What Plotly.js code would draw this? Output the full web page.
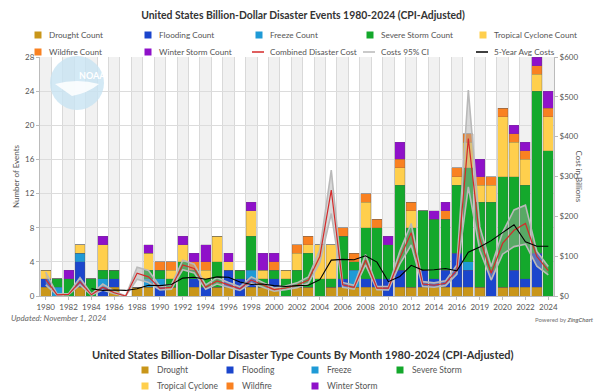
<!DOCTYPE html>
<html>
<head>
<meta charset="utf-8">
<script src="https://cdn.plot.ly/plotly-3.0.1.min.js"></script>
<style>
html,body{margin:0;padding:0;background:#fff;}
#chart{width:600px;height:392px;}
</style>
</head>
<body>
<div id="chart"></div>
<script>
var years = [1980,1981,1982,1983,1984,1985,1986,1987,1988,1989,1990,1991,1992,1993,1994,1995,1996,1997,1998,1999,2000,2001,2002,2003,2004,2005,2006,2007,2008,2009,2010,2011,2012,2013,2014,2015,2016,2017,2018,2019,2020,2021,2022,2023,2024];

var droughtCount  = [1,0,0,1,0,0,1,0,1,1,0,1,0,1,0,1,1,0,1,1,1,0,1,1,0,1,1,1,1,1,0,1,1,1,1,1,1,1,1,0,1,1,1,1,0];
var floodingCount = [1,0,0,3,0,1,1,0,0,0,1,0,0,1,1,0,2,2,1,0,1,0,0,0,0,0,1,0,1,1,2,2,0,2,1,2,4,2,0,3,0,2,1,4,0];
var freezeCount   = [0,1,0,1,0,1,0,0,0,1,1,0,0,0,0,0,0,0,1,0,0,0,0,0,0,0,0,2,0,0,0,0,0,0,0,0,0,1,0,0,0,0,0,0,0];
var severeCount   = [0,1,2,0,2,1,1,0,0,1,1,1,4,1,1,3,0,1,4,1,1,2,2,4,2,1,5,1,6,6,4,10,7,7,7,6,8,11,10,8,13,11,11,19,17];
var tropicalCount = [1,0,0,1,0,3,0,0,0,2,0,1,2,0,1,3,1,0,3,1,0,1,2,1,4,4,0,0,3,0,0,2,2,0,0,0,1,3,2,2,7,4,3,2,4];
var wildfireCount = [0,0,0,0,0,0,0,0,0,0,1,1,0,1,1,0,0,0,0,0,1,0,1,1,0,0,1,1,1,1,0,1,1,0,0,1,1,1,1,1,1,1,1,1,1];
var winterCount   = [0,0,1,0,0,1,0,0,0,1,0,0,1,1,2,0,1,0,1,2,1,0,0,0,0,0,0,0,0,0,1,2,0,0,1,1,0,0,2,0,0,1,1,1,2];

// costs in billions of dollars (CPI-adjusted)
var combinedCost = [42,3,4,36,3,22,8,0,57,48,19,22,78,69,22,38,28,18,40,28,16,20,27,40,99,266,28,22,90,20,20,95,159,30,27,32,65,395,145,57,132,165,182,99,64];
var costLow      = [28,2,3,28,2,15,6,0,42,34,15,17,66,58,17,30,22,14,32,22,12,16,21,32,84,207,22,17,78,16,15,80,128,24,22,26,55,274,115,40,105,124,130,75,53];
var costHigh     = [60,5,6,46,5,30,12,0,72,64,24,28,90,80,28,46,34,23,48,34,20,25,33,48,116,316,34,27,104,24,24,112,182,36,33,38,78,517,174,74,160,216,228,112,74];
var avgYears     = [1984,1985,1986,1987,1988,1989,1990,1991,1992,1993,1994,1995,1996,1997,1998,1999,2000,2001,2002,2003,2004,2005,2006,2007,2008,2009,2010,2011,2012,2013,2014,2015,2016,2017,2018,2019,2020,2021,2022,2023,2024];
var avgCost      = [18,14,15,14,18,27,26,29,45,47,42,48,47,35,29,30,26,24,26,27,41,90,92,91,101,85,36,49,77,65,66,69,63,110,123,139,159,179,136,125,125];

var tickYears  = [1980,1982,1984,1986,1988,1990,1992,1994,1996,1998,2000,2002,2004,2006,2008,2010,2012,2014,2016,2018,2020,2022,2024];
var tickLabels = ['1980','1982','1984','1986','1988','1990','1992','1994','1996','1998','2000','2002','2004','2006','2008','2010','2012','2014','2016','2019','2020','2022','2024'];

var seriesNames = ['Drought Count','Flooding Count','Freeze Count','Severe Storm Count','Tropical Cyclone Count','Wildfire Count','Winter Storm Count'];
var lineNames = ['Combined Disaster Cost','Costs 95% CI','5-Year Avg Costs'];
var seriesData = [droughtCount,floodingCount,freezeCount,severeCount,tropicalCount,wildfireCount,winterCount];
var seriesColors = ['#c9961a','#1b45cc','#1f9ad6','#14a82c','#ffcf4d','#f98121','#8f11c9'];
var lineColors = ['#d42a2a','#b9b9b9','#000000'];
var typeNames = ['Drought','Flooding','Freeze','Severe Storm','Tropical Cyclone','Wildfire','Winter Storm'];

var FONT = 'Lato, "Open Sans", sans-serif';
var W = 514, H = 239, L = 40, B = 296;
function px(x) { return (x - L) / W; }
function py(y) { return (B - y) / H; }

var traces = [];
for (var i = 0; i < seriesNames.length; i++) {
  traces.push({
    type: 'bar', x: years, y: seriesData[i], name: seriesNames[i],
    marker: {color: seriesColors[i], line: {color: 'rgba(90,90,90,0.35)', width: 0.6}},
    hoverinfo: 'skip'
  });
}
traces.push({
  type: 'scatter', mode: 'lines', x: years, y: costLow, yaxis: 'y2', name: 'Costs 95% CI low',
  line: {color: '#b9b9b9', width: 1.6}, hoverinfo: 'skip'
});
traces.push({
  type: 'scatter', mode: 'lines', x: years, y: costHigh, yaxis: 'y2', name: 'Costs 95% CI',
  line: {color: '#b9b9b9', width: 1.6}, fill: 'tonexty', fillcolor: 'rgba(170,170,170,0.45)',
  hoverinfo: 'skip'
});
traces.push({
  type: 'scatter', mode: 'lines', x: years, y: combinedCost, yaxis: 'y2', name: 'Combined Disaster Cost',
  line: {color: '#d42a2a', width: 1.2}, hoverinfo: 'skip'
});
traces.push({
  type: 'scatter', mode: 'lines', x: avgYears, y: avgCost, yaxis: 'y2', name: '5-Year Avg Costs',
  line: {color: '#000000', width: 1.1}, hoverinfo: 'skip'
});

// alternating column shading
var shapes = [];
for (var j = 0; j < years.length; j++) {
  if (years[j] % 2 === 0) {
    shapes.push({type: 'rect', xref: 'x', yref: 'y', x0: years[j] - 0.5, x1: years[j] + 0.5, y0: 0, y1: 28,
      fillcolor: '#f1f1f1', line: {width: 0}, layer: 'below'});
  }
}
// faded NOAA logo
shapes.push({type: 'circle', xref: 'paper', yref: 'paper', x0: px(50), x1: px(104), y0: py(110), y1: py(56),
  fillcolor: 'rgba(200,228,243,0.8)', line: {width: 0}, layer: 'above'});
shapes.push({type: 'path', xref: 'paper', yref: 'paper',
  path: 'M ' + px(55) + ' ' + py(84) + ' Q ' + px(77) + ' ' + py(78) + ' ' + px(99) + ' ' + py(84) +
        ' Q ' + px(88) + ' ' + py(93) + ' ' + px(72) + ' ' + py(96) + ' Z',
  fillcolor: 'rgba(255,255,255,0.85)', line: {width: 0}, layer: 'above'});

var annotations = [
  {text: '<b>NOAA</b>', xref: 'paper', yref: 'paper', x: px(77), y: py(68), showarrow: false,
   font: {family: FONT, size: 9, color: '#ffffff'}},
  {text: 'Cost in Billions', textangle: 90, xref: 'paper', yref: 'paper', x: px(586), y: 0.5, showarrow: false,
   font: {family: FONT, size: 8, color: '#555'}},
  {text: '<i>Updated: November 1, 2024</i>', xref: 'paper', yref: 'paper', x: px(9), xanchor: 'left',
   y: py(318), yanchor: 'middle', showarrow: false, font: {family: FONT, size: 8, color: '#666'}},
  {text: 'Powered by <b><i>ZingChart</i></b>', xref: 'paper', yref: 'paper', x: px(596), xanchor: 'right',
   y: py(319), yanchor: 'middle', showarrow: false, font: {family: FONT, size: 6, color: '#777'}},
  {text: '<b>United States Billion-Dollar Disaster Type Counts By Month 1980-2024 (CPI-Adjusted)</b>', xref: 'paper', yref: 'paper',
   x: px(303), y: py(354), yanchor: 'middle', showarrow: false, font: {family: FONT, size: 11, color: '#333'}}
];

// top legend (drawn manually to match the original's compact layout)
var legCols = [38, 148, 259, 370, 483];
var legRows = [35, 52];
var legendItems = [];
for (var a = 0; a < seriesNames.length; a++) legendItems.push({name: seriesNames[a], color: seriesColors[a], kind: 'box'});
for (var b = 0; b < lineNames.length; b++) legendItems.push({name: lineNames[b], color: lineColors[b], kind: 'line'});
for (var m = 0; m < legendItems.length; m++) {
  var cx = legCols[m % 5], cy = legRows[Math.floor(m / 5)];
  var it = legendItems[m];
  if (it.kind === 'box') {
    shapes.push({type: 'rect', xref: 'paper', yref: 'paper', x0: px(cx - 3.5), x1: px(cx + 3.5), y0: py(cy + 3.5), y1: py(cy - 3.5),
      fillcolor: it.color, line: {width: 0}, layer: 'above'});
  } else {
    shapes.push({type: 'line', xref: 'paper', yref: 'paper', x0: px(cx - 7), x1: px(cx + 5), y0: py(cy), y1: py(cy),
      line: {color: it.color, width: 1.5}, layer: 'above'});
  }
  annotations.push({text: it.name, xref: 'paper', yref: 'paper', x: px(cx + 9), xanchor: 'left', y: py(cy), yanchor: 'middle',
    showarrow: false, font: {family: FONT, size: 8.2, color: '#555'}});
}

// bottom (second chart) legend
var legendX = [145, 230, 315, 400, 145, 230, 315];
var legendY = [370, 370, 370, 370, 386, 386, 386];
for (var k = 0; k < typeNames.length; k++) {
  shapes.push({type: 'rect', xref: 'paper', yref: 'paper', x0: px(legendX[k] - 3.5), x1: px(legendX[k] + 3.5),
    y0: py(legendY[k] + 3.5), y1: py(legendY[k] - 3.5), fillcolor: seriesColors[k], line: {width: 0}, layer: 'above'});
  annotations.push({
    text: typeNames[k], xref: 'paper', yref: 'paper', x: px(legendX[k] + 10), xanchor: 'left',
    y: py(legendY[k]), yanchor: 'middle', showarrow: false,
    font: {family: FONT, size: 8.5, color: '#555'}
  });
}

var layout = {
  width: 600, height: 392,
  margin: {l: L, r: 600 - L - W, t: 57, b: 392 - B, pad: 0},
  paper_bgcolor: '#ffffff', plot_bgcolor: '#ffffff',
  font: {family: FONT, size: 8, color: '#555'},
  title: {text: '<b>United States Billion-Dollar Disaster Events 1980-2024 (CPI-Adjusted)</b>',
    x: 0.505, xref: 'container', y: 1 - 15/392, yref: 'container', yanchor: 'middle',
    font: {family: FONT, size: 10.4, color: '#333'}},
  barmode: 'stack', bargap: 0.13,
  showlegend: false,
  xaxis: {range: [1979.5, 2024.5], tickmode: 'array', tickvals: tickYears, ticktext: tickLabels, tickangle: 0,
    showgrid: false, zeroline: false, showline: true, linecolor: '#bbb',
    ticks: 'outside', ticklen: 3, tickcolor: '#bbb', tickfont: {size: 8, color: '#555'},
    minor: {tick0: 1979.5, dtick: 1, showgrid: true, gridcolor: '#d9d9d9', gridwidth: 1, ticks: ''}},
  yaxis: {range: [0, 28], dtick: 4, showgrid: true, gridcolor: '#dcdcdc', zeroline: false,
    showline: true, linecolor: '#bbb', ticks: 'outside', ticklen: 3, tickcolor: '#bbb',
    tickfont: {size: 8, color: '#555'},
    title: {text: 'Number of Events', font: {size: 8, color: '#555'}, standoff: 4}},
  yaxis2: {range: [0, 600], dtick: 100, tickprefix: '$', overlaying: 'y', side: 'right',
    showgrid: false, zeroline: false, showline: true, linecolor: '#bbb', ticks: 'outside', ticklen: 3,
    tickcolor: '#bbb', tickfont: {size: 8, color: '#555'}},
  shapes: shapes,
  annotations: annotations,
  hovermode: false
};

Plotly.newPlot('chart', traces, layout, {staticPlot: true, displayModeBar: false});
</script>
</body>
</html>
